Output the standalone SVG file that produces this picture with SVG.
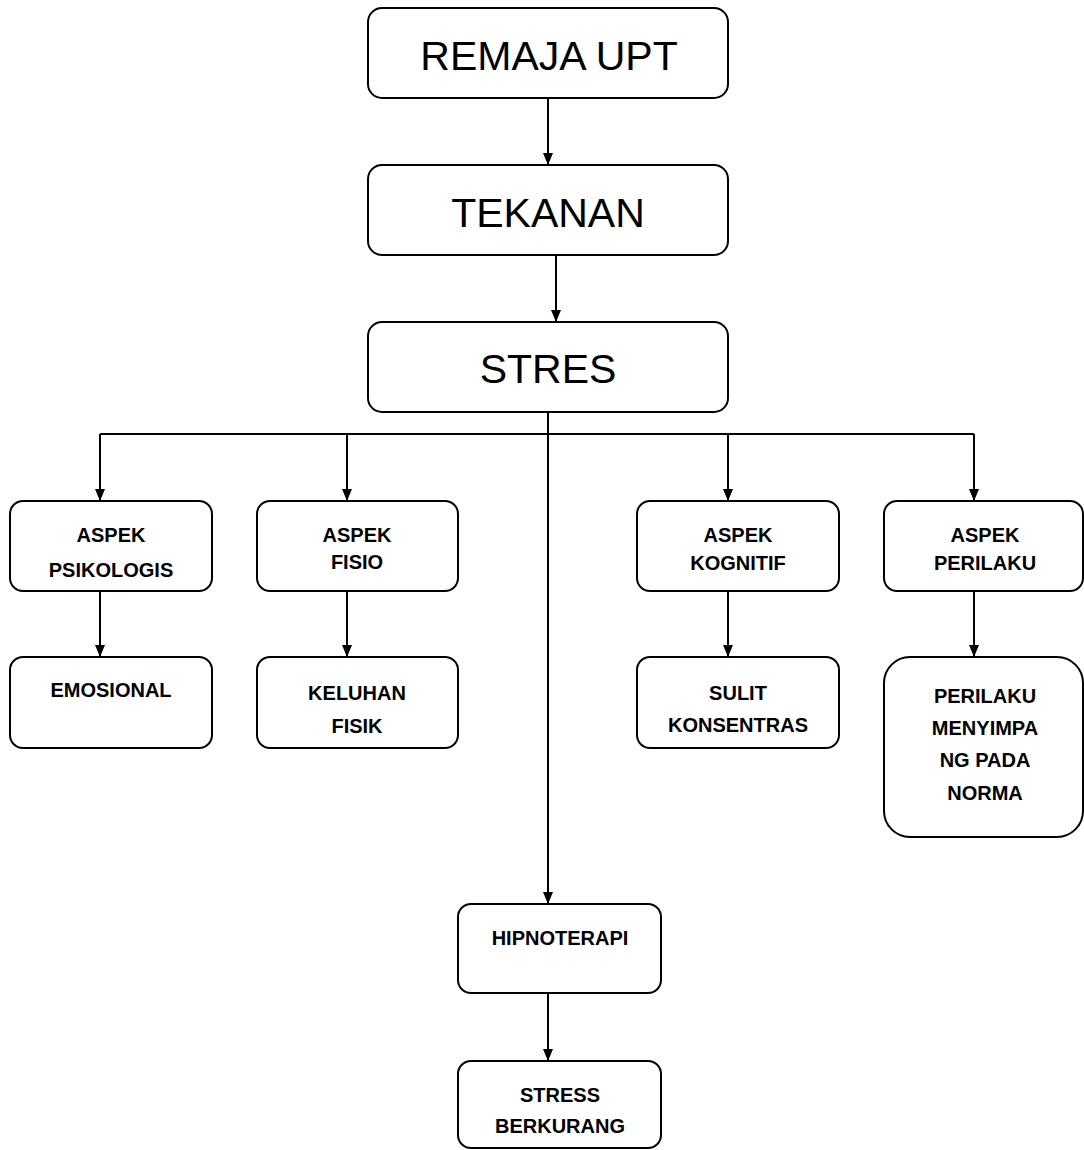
<svg xmlns="http://www.w3.org/2000/svg" width="1084" height="1150" viewBox="0 0 1084 1150">
<style>
.box{fill:#fff;stroke:#000;stroke-width:2}
.big{font-family:"Liberation Sans",Arial,sans-serif;font-size:41px;fill:#000;text-anchor:middle}
.sm{font-family:"Liberation Sans",Arial,sans-serif;font-size:20px;font-weight:bold;fill:#000;text-anchor:middle}
.ln{fill:none;stroke:#000;stroke-width:2}
</style>
<defs>
<marker id="ah" markerUnits="userSpaceOnUse" markerWidth="12" markerHeight="12" viewBox="0 0 12 12" refX="12" refY="6" orient="auto">
<path d="M0,1 L12,6 L0,11 Z" fill="#000"/>
</marker>
</defs>
<rect width="1084" height="1150" fill="#fff"/>
<g id="connectors">
<line class="ln" x1="548" y1="98" x2="548" y2="165" marker-end="url(#ah)"/>
<line class="ln" x1="556" y1="255" x2="556" y2="322" marker-end="url(#ah)"/>
<line class="ln" x1="548" y1="412" x2="548" y2="904" marker-end="url(#ah)"/>
<polyline class="ln" points="100,434 974,434"/>
<line class="ln" x1="100" y1="434" x2="100" y2="501" marker-end="url(#ah)"/>
<line class="ln" x1="347" y1="434" x2="347" y2="501" marker-end="url(#ah)"/>
<line class="ln" x1="728" y1="434" x2="728" y2="501" marker-end="url(#ah)"/>
<line class="ln" x1="974" y1="434" x2="974" y2="501" marker-end="url(#ah)"/>
<line class="ln" x1="100" y1="591" x2="100" y2="657" marker-end="url(#ah)"/>
<line class="ln" x1="347" y1="591" x2="347" y2="657" marker-end="url(#ah)"/>
<line class="ln" x1="728" y1="591" x2="728" y2="657" marker-end="url(#ah)"/>
<line class="ln" x1="974" y1="591" x2="974" y2="657" marker-end="url(#ah)"/>
<line class="ln" x1="548" y1="993" x2="548" y2="1061" marker-end="url(#ah)"/>
</g>
<g id="remaja">
<rect class="box" x="368" y="8" width="360" height="90" rx="14"/>
<text class="big" x="549" y="70">REMAJA UPT</text>
</g>
<g id="tekanan">
<rect class="box" x="368" y="165" width="360" height="90" rx="14"/>
<text class="big" x="548" y="227">TEKANAN</text>
</g>
<g id="stres">
<rect class="box" x="368" y="322" width="360" height="90" rx="14"/>
<text class="big" x="548" y="383">STRES</text>
</g>
<g id="psikologis">
<rect class="box" x="10" y="501" width="202" height="90" rx="13"/>
<text class="sm" x="111" y="542">ASPEK</text>
<text class="sm" x="111" y="577">PSIKOLOGIS</text>
</g>
<g id="fisio">
<rect class="box" x="257" y="501" width="201" height="90" rx="13"/>
<text class="sm" x="357" y="542">ASPEK</text>
<text class="sm" x="357" y="569">FISIO</text>
</g>
<g id="kognitif">
<rect class="box" x="637" y="501" width="202" height="90" rx="13"/>
<text class="sm" x="738" y="542">ASPEK</text>
<text class="sm" x="738" y="570">KOGNITIF</text>
</g>
<g id="perilaku">
<rect class="box" x="884" y="501" width="199" height="90" rx="13"/>
<text class="sm" x="985" y="542">ASPEK</text>
<text class="sm" x="985" y="570">PERILAKU</text>
</g>
<g id="emosional">
<rect class="box" x="10" y="657" width="202" height="91" rx="13"/>
<text class="sm" x="111" y="697">EMOSIONAL</text>
</g>
<g id="keluhan">
<rect class="box" x="257" y="657" width="201" height="91" rx="13"/>
<text class="sm" x="357" y="700">KELUHAN</text>
<text class="sm" x="357" y="733">FISIK</text>
</g>
<g id="sulit">
<rect class="box" x="637" y="657" width="202" height="91" rx="13"/>
<text class="sm" x="738" y="700">SULIT</text>
<text class="sm" x="738" y="732">KONSENTRAS</text>
</g>
<g id="menyimpang">
<rect class="box" x="884" y="657" width="199" height="180" rx="26"/>
<text class="sm" x="985" y="703">PERILAKU</text>
<text class="sm" x="985" y="735">MENYIMPA</text>
<text class="sm" x="985" y="767">NG PADA</text>
<text class="sm" x="985" y="800">NORMA</text>
</g>
<g id="hipnoterapi">
<rect class="box" x="458" y="904" width="203" height="89" rx="13"/>
<text class="sm" x="560" y="945">HIPNOTERAPI</text>
</g>
<g id="berkurang">
<rect class="box" x="458" y="1061" width="203" height="87" rx="13"/>
<text class="sm" x="560" y="1102">STRESS</text>
<text class="sm" x="560" y="1133">BERKURANG</text>
</g>
</svg>
